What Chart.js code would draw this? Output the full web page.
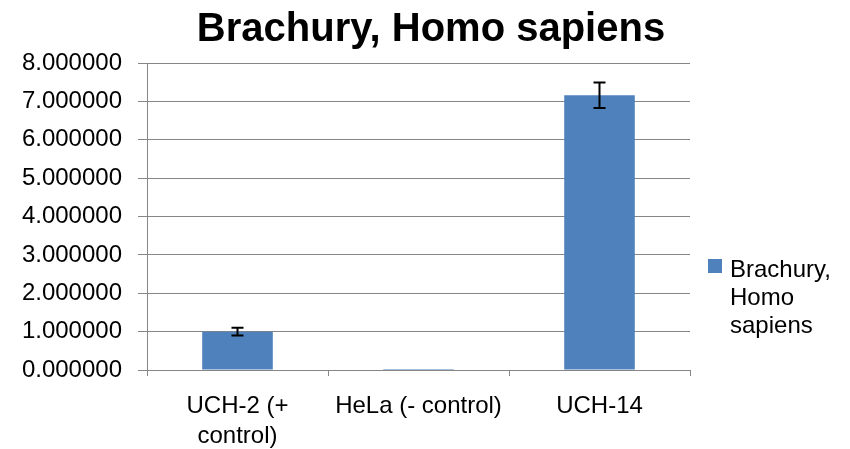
<!DOCTYPE html>
<html>
<head>
<meta charset="utf-8">
<script src="https://cdn.jsdelivr.net/npm/chart.js@4"></script>
<style>
  body { margin: 0; background: #fff; }
  #wrap { width: 850px; height: 449px; }
</style>
</head>
<body>
<div id="wrap"><canvas id="c" width="850" height="449"></canvas></div>
<script>
const categories = [['UCH-2 (+', 'control)'], 'HeLa (- control)', 'UCH-14']
const seriesName = 'Brachury, Homo sapiens'
const legendLines = ['Brachury,', 'Homo', 'sapiens']
const values = [1.0, 0.002, 7.16]
const errors = [0.1, 0.0, 0.33]
const yTicks = [0, 1, 2, 3, 4, 5, 6, 7, 8]

const FONT = "'Liberation Sans', Arial, sans-serif"
const AXIS = '#868686'
const BAR = '#4F81BD'

// error bars drawn from the y scale
const errorBars = {
  id: 'errorBars',
  afterDatasetsDraw(chart) {
    const ctx = chart.ctx
    const y = chart.scales.y
    chart.getDatasetMeta(0).data.forEach((bar, i) => {
      const e = errors[i]
      if (!e) return
      const top = y.getPixelForValue(values[i] + e)
      const bot = y.getPixelForValue(values[i] - e)
      ctx.save()
      ctx.strokeStyle = '#000'
      ctx.lineWidth = 2
      ctx.beginPath()
      ctx.moveTo(bar.x, top); ctx.lineTo(bar.x, bot)
      ctx.moveTo(bar.x - 6, top); ctx.lineTo(bar.x + 6, top)
      ctx.moveTo(bar.x - 6, bot); ctx.lineTo(bar.x + 6, bot)
      ctx.stroke()
      ctx.restore()
    })
  }
}

// title over the whole picture and legend on the right with wrapped text
const decorations = {
  id: 'decorations',
  afterDraw(chart) {
    const ctx = chart.ctx
    const area = chart.chartArea
    ctx.save()
    ctx.fillStyle = '#000'
    ctx.font = 'bold 40px ' + FONT
    ctx.textAlign = 'center'
    ctx.textBaseline = 'alphabetic'
    ctx.fillText(seriesName, chart.width / 2 + 6, 41)

    const x = area.right + 18
    const top = area.bottom - 111
    ctx.fillStyle = BAR
    ctx.fillRect(x, top, 14, 14)
    ctx.fillStyle = '#000'
    ctx.font = '24px ' + FONT
    ctx.textAlign = 'left'
    legendLines.forEach((t, i) => ctx.fillText(t, x + 22, top + 18 + i * 28))
    ctx.restore()
  }
}

new Chart(document.getElementById('c'), {
  type: 'bar',
  data: {
    labels: categories,
    datasets: [{
      label: seriesName,
      data: values,
      backgroundColor: BAR,
      borderWidth: 0,
      categoryPercentage: 1,
      barPercentage: 0.39
    }]
  },
  options: {
    responsive: false,
    animation: false,
    devicePixelRatio: 1,
    layout: { padding: { left: 10, right: 160, top: 63, bottom: 0 } },
    plugins: {
      legend: { display: false },
      tooltip: { enabled: false },
      title: { display: false }
    },
    scales: {
      y: {
        min: 0,
        max: 8,
        afterBuildTicks: s => { s.ticks = yTicks.map(v => ({ value: v })) },
        afterFit: s => { s.width = 137 },
        border: { color: AXIS, width: 1 },
        grid: { color: AXIS, lineWidth: 1, tickLength: 9, drawTicks: true },
        ticks: {
          color: '#000',
          padding: 16,
          font: { family: FONT, size: 24 },
          callback: v => v.toFixed(6)
        }
      },
      x: {
        afterFit: s => { s.height = 79 },
        border: { color: AXIS, width: 1 },
        grid: { drawOnChartArea: false, color: AXIS, tickLength: 6, offset: true },
        ticks: {
          color: '#000',
          padding: 15,
          maxRotation: 0,
          autoSkip: false,
          font: { family: FONT, size: 24, lineHeight: 1.25 }
        }
      }
    }
  },
  plugins: [errorBars, decorations]
})
</script>
</body>
</html>
